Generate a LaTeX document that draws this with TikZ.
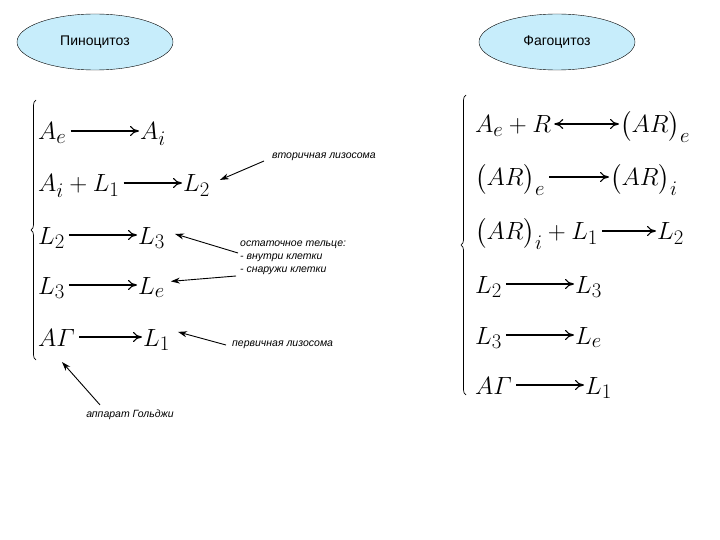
\documentclass[tikz,border=0pt]{standalone}
\usepackage{amsmath}
\usepackage{fontspec}
\setmainfont{Liberation Sans}
\usetikzlibrary{calc,shapes.geometric,arrows.meta,decorations.pathreplacing}
\begin{document}
\begin{tikzpicture}[x=1pt,y=-1pt,
  ell/.style={draw,ellipse,fill=cyan!22,minimum width=156pt,minimum height=56pt,font=\fontsize{14}{16}\selectfont},
  eq/.style={anchor=base west,inner sep=0pt,font=\fontsize{30}{36}\selectfont},
  lab/.style={anchor=west,inner sep=0pt,font=\fontsize{10.5}{13}\itshape,align=left},
  rx/.style={-{To[length=9pt,width=10pt]},line width=1.1pt},
  px/.style={-{Stealth[length=9pt,width=6pt]},line width=0.9pt},
  br/.style={decorate,decoration={brace,amplitude=5pt},line width=0.7pt}]
\useasboundingbox (0,0) rectangle (720,540);
\node[ell] (pin) at (95,42) {Пиноцитоз};
\node[ell] (fag) at (557,42) {Фагоцитоз};
% left
\coordinate (lbt) at (36,100);
\coordinate (lbb) at (36,360);
\draw[br] (lbb) -- (lbt);
\node[eq] (a1) at (38,140) {$A_e$};
\node[eq] (a2) at (140,140) {$A_i$};
\node[eq] (b1) at (38,192) {$A_i+L_1$};
\node[eq] (b2) at (183,192) {$L_2$};
\node[eq] (c1) at (38,244) {$L_2$};
\node[eq] (c2) at (138,244) {$L_3$};
\node[eq] (d1) at (38,294) {$L_3$};
\node[eq] (d2) at (138,294) {$L_e$};
\node[eq] (e1) at (38,346) {$A\varGamma$};
\node[eq] (e2) at (143,346) {$L_1$};
\foreach \p/\q in {a1/a2,b1/b2,c1/c2,d1/d2,e1/e2}
  \draw[rx] ($(\p.base east)+(4,-9)$) -- ($(\q.base west)+(-1,-9)$);
\node[lab] (t1) at (272,157) {вторичная лизосома};
\node[lab] (t2) at (240,258) {остаточное тельце:\\- внутри клетки\\- снаружи клетки};
\node[lab] (t3) at (232,345) {первичная лизосома};
\node[lab,anchor=center] (t4) at (130,415) {аппарат Гольджи};
\draw[px] ($(t1.west)+(-8,4)$) -- ($(b2.east)+(10,-6)$);
\draw[px] ($(t2.west)+(-2,-5)$) -- ($(c2.east)+(10,-4)$);
\draw[px] ($(t2.west)+(-4,18)$) -- ($(d2.east)+(6,-6)$);
\draw[px] ($(t3.west)+(-6,0)$) -- ($(e2.east)+(8,-8)$);
\draw[px] ($(t4.north)+(-30,-5)$) -- (62,362);
% right
\coordinate (rbt) at (466,95);
\coordinate (rbb) at (466,395);
\draw[br] (rbb) -- (rbt);
\node[eq] (f1) at (475,133) {$A_e+R$};
\node[eq] (f2) at (620,133) {$\bigl(AR\bigr)_e$};
\node[eq] (g1) at (475,186) {$\bigl(AR\bigr)_e$};
\node[eq] (g2) at (610,186) {$\bigl(AR\bigr)_i$};
\node[eq] (h1) at (475,240) {$\bigl(AR\bigr)_i+L_1$};
\node[eq] (h2) at (657,240) {$L_2$};
\node[eq] (i1) at (475,293) {$L_2$};
\node[eq] (i2) at (575,293) {$L_3$};
\node[eq] (j1) at (475,344) {$L_3$};
\node[eq] (j2) at (575,344) {$L_e$};
\node[eq] (k1) at (475,394) {$A\varGamma$};
\node[eq] (k2) at (585,394) {$L_1$};
\draw[{To[length=9pt,width=10pt]}-{To[length=9pt,width=10pt]},line width=1.1pt] ($(f1.base east)+(3,-9)$) -- ($(f2.base west)+(-1,-9)$);
\foreach \p/\q in {g1/g2,h1/h2,i1/i2,j1/j2,k1/k2}
  \draw[rx] ($(\p.base east)+(4,-9)$) -- ($(\q.base west)+(-1,-9)$);
\end{tikzpicture}
\end{document}
